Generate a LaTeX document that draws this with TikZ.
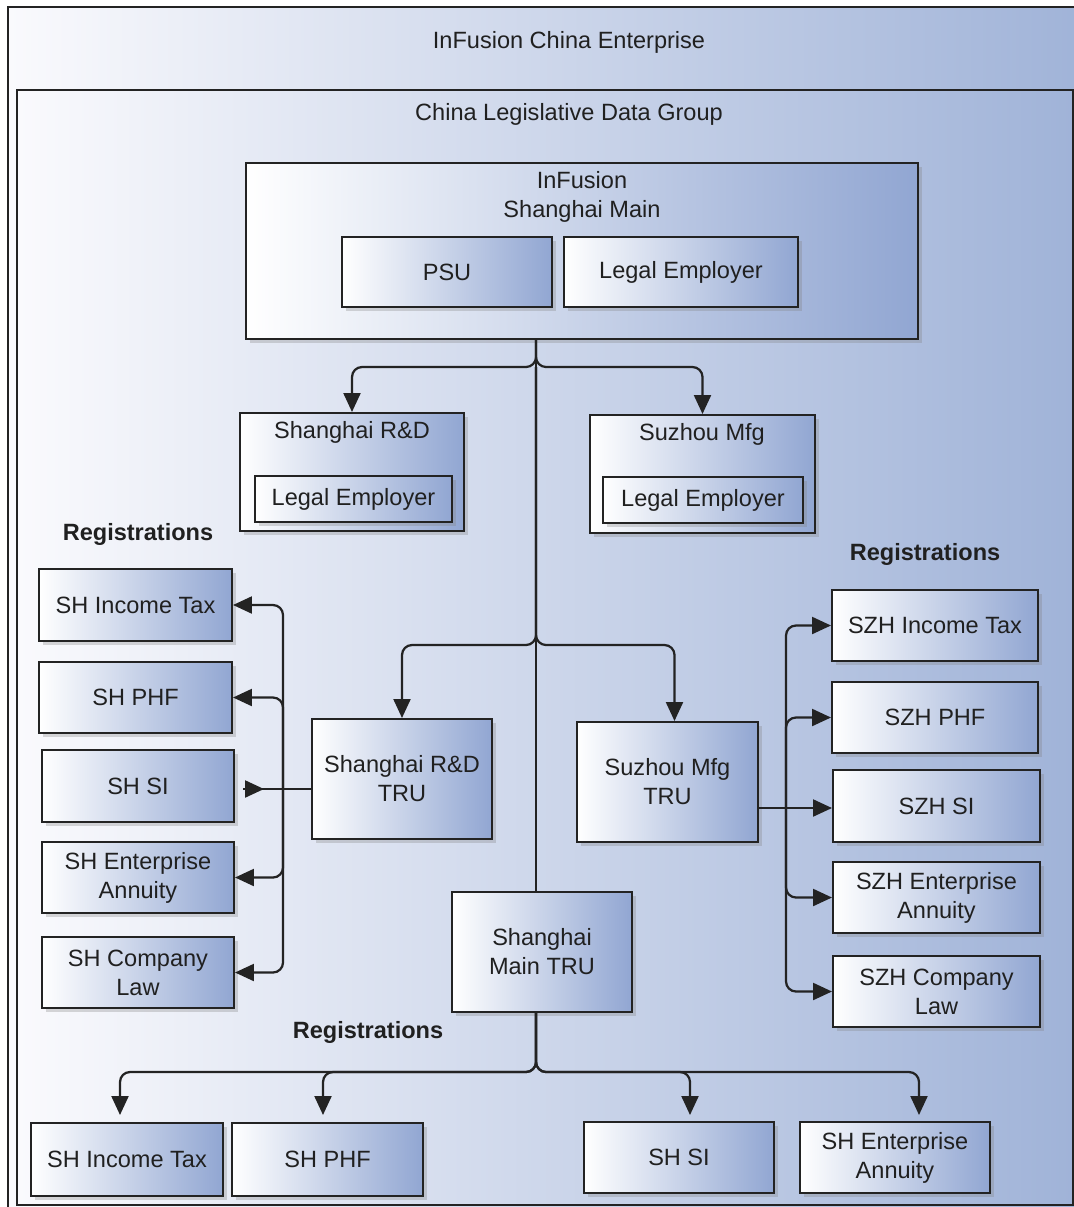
\documentclass[tikz,border=0pt]{standalone}
\usepackage{fontspec}
\setmainfont{Liberation Sans}
\usetikzlibrary{arrows.meta,shadows,calc}
\definecolor{boxblue}{RGB}{145,166,210}
\definecolor{bgblue}{RGB}{160,179,216}
\definecolor{bgwhite}{RGB}{250,250,253}
\definecolor{ink}{RGB}{35,35,35}
\definecolor{txt}{RGB}{32,32,32}
\newcommand{\fs}{\fontsize{13.4pt}{16.5pt}\selectfont}
\newcommand{\bx}[6]{\node[box, minimum width={(#4-#2)*0.02cm}, minimum height={(#5-#3)*0.02cm}] (#1) at ({(#2+#4)/2},{(#3+#5)/2}) {#6};}
\begin{document}
\begin{tikzpicture}[x=0.02cm,y=-0.02cm,
  box/.style={draw=ink, line width=0.04cm, left color=white, right color=boxblue, inner sep=0pt, align=center, font=\fs, text=txt,
    drop shadow={shadow xshift=0.08cm, shadow yshift=-0.08cm, opacity=0.3, fill=black!50}},
  frame/.style={draw=ink, line width=0.04cm, left color=bgwhite, right color=bgblue},
  lbl/.style={align=center, font=\fs, text=txt, inner sep=0pt},
  reg/.style={font=\fs\bfseries, text=txt, inner sep=0pt},
  ln/.style={draw=ink, line width=0.045cm, rounded corners=0.2cm},
  arr/.style={ln, -{Triangle[length=0.38cm,width=0.34cm]}},
]
\useasboundingbox (0,0) rectangle (1074,1207);
\clip (0,0) rectangle (1074,1207);
\draw[frame] (8,7) rectangle (1084,1217);
\draw[frame] (17,90) rectangle (1073,1205);
\node[lbl] (ent) at (569,42) {InFusion China Enterprise};
\node[lbl] (ldg) at (569,114) {China Legislative Data Group};

% top main
\bx{main}{246}{163}{918}{339}{}
\node[lbl] (mainT) at (582,197) {InFusion\\Shanghai Main};
\bx{psu}{342}{237}{552}{307}{PSU}
\bx{le0}{564}{237}{798}{307}{Legal Employer}

% second level
\bx{rd}{240}{413}{464}{531}{}
\node[lbl] (rdT) at (352,432) {Shanghai R\&D};
\bx{rdle}{255}{476}{452}{522}{Legal Employer}
\bx{sz}{590}{415}{815}{533}{}
\node[lbl] (szT) at (702,434) {Suzhou Mfg};
\bx{szle}{603}{477}{803}{523}{Legal Employer}

% TRUs
\bx{rdtru}{312}{719}{492}{839}{Shanghai R\&D\\TRU}
\bx{sztru}{577}{722}{758}{842}{Suzhou Mfg\\TRU}
\bx{mtru}{452}{892}{632}{1012}{Shanghai\\Main TRU}

% left registrations
\node[reg] (regL) at (138,534) {Registrations};
\bx{lit}{39}{569}{232}{641}{SH Income Tax}
\bx{lphf}{39}{662}{232}{733}{SH PHF}
\bx{lsi}{42}{750}{234}{822}{SH SI}
\bx{lea}{42}{842}{234}{913}{SH Enterprise\\Annuity}
\bx{lcl}{42}{937}{234}{1008}{SH Company\\Law}

% right registrations
\node[reg] (regR) at (925,554) {Registrations};
\bx{rit}{832}{590}{1038}{661}{SZH Income Tax}
\bx{rphf}{832}{682}{1038}{753}{SZH PHF}
\bx{rsi}{833}{770}{1040}{842}{SZH SI}
\bx{rea}{833}{862}{1040}{933}{SZH Enterprise\\Annuity}
\bx{rcl}{833}{956}{1040}{1027}{SZH Company\\Law}

% bottom registrations
\node[reg] (regB) at (368,1032) {Registrations};
\bx{bit}{31}{1123}{223}{1196}{SH Income Tax}
\bx{bphf}{232}{1123}{423}{1196}{SH PHF}
\bx{bsi}{584}{1122}{774}{1193}{SH SI}
\bx{bea}{800}{1122}{990}{1193}{SH Enterprise\\Annuity}

% connectors: trunk
\coordinate (t0) at (main.south -| 536,0);
\coordinate (b1) at (536,367);
\coordinate (b2) at (536,645);
\draw[ln] (t0) -- (mtru.north -| t0);
\draw[arr] (t0) -- (b1) -| (rd.north);
\draw[arr] (t0) -- (b1) -| (sz.north);
\draw[arr] (b1) -- (b2) -| (rdtru.north);
\coordinate (sztA) at ($(sztru.north)+(7,0)$);
\draw[arr] (b1) -- (b2) -| (sztA);

% left bus
\coordinate (lj) at (283,789);
\coordinate (lsiA) at (243,789);
\coordinate (lsiB) at (264,789);
\draw[ln] (rdtru.west |- lj) -- (lj) -- (lsiA);
\draw[arr] (lsiA) -- (lsiB);
\draw[arr] (lj) |- (lit.east);
\draw[arr] (lj) |- (lphf.east);
\draw[arr] (lj) |- (lea.east);
\draw[arr] (lj) |- (lcl.east);

% right bus
\coordinate (rj) at (786,808);
\draw[ln] (sztru.east |- rj) -- (rj);
\draw[arr] (rj) -- (rsi.west |- rj);
\draw[arr] (rj) |- (rit.west);
\draw[arr] (rj) |- (rphf.west);
\draw[arr] (rj) |- (rea.west);
\draw[arr] (rj) |- (rcl.west);

% bottom
\coordinate (m0) at (mtru.south -| t0);
\coordinate (bj) at (536,1072);
\coordinate (ba1) at (120,1115);
\coordinate (ba2) at (323,1115);
\coordinate (ba3) at (690,1115);
\coordinate (ba4) at (919,1115);
\draw[arr] (m0) -- (bj) -| (ba1);
\draw[arr] (m0) -- (bj) -| (ba2);
\draw[arr] (m0) -- (bj) -| (ba3);
\draw[arr] (m0) -- (bj) -| (ba4);
\end{tikzpicture}
\end{document}
